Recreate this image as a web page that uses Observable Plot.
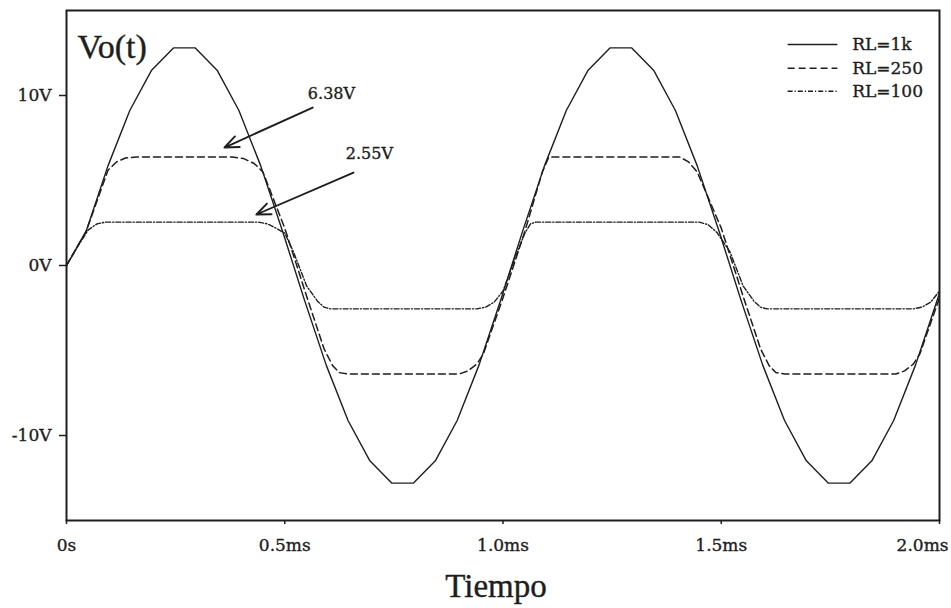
<!DOCTYPE html>
<html>
<head>
<meta charset="utf-8">
<script src="https://cdn.jsdelivr.net/npm/d3@7"></script>
<script src="https://cdn.jsdelivr.net/npm/@observablehq/plot@0.6"></script>
<style>
  html, body { margin: 0; padding: 0; background: #ffffff; }
  #chart svg { display: block; }
</style>
</head>
<body>
<div id="chart"></div>
<script>
// ---- data (time in ms, voltage in V) ----
const t1k = [0,0.045,0.095,0.145,0.195,0.245,0.295,0.345,0.395,0.445,0.495,0.545,0.595,0.645,0.695,0.745,0.795,0.845,0.895,0.945,0.995,1.045,1.095,1.145,1.195,1.245,1.295,1.345,1.395,1.445,1.495,1.545,1.595,1.645,1.695,1.745,1.795,1.845,1.895,1.945,1.995,2.0];
const v1k = [0,2.02,5.86,9.12,11.49,12.8,12.8,11.49,9.12,5.86,2.02,-2.02,-5.86,-9.12,-11.49,-12.8,-12.8,-11.49,-9.12,-5.86,-2.02,2.02,5.86,9.12,11.49,12.8,12.8,11.49,9.12,5.86,2.02,-2.02,-5.86,-9.12,-11.49,-12.8,-12.8,-11.49,-9.12,-5.86,-2.02,-1.62];

const t250 = [0,0.045,0.095,0.115,0.135,0.16,0.38,0.405,0.43,0.45,0.5,0.55,0.59,0.61,0.625,0.645,0.9,0.92,0.94,0.955,1.0,1.05,1.09,1.105,1.405,1.425,1.445,1.5,1.55,1.59,1.61,1.625,1.645,1.9,1.92,1.94,1.955,2.0];
const v250 = [0,2.0,5.6,6.1,6.32,6.38,6.38,6.3,6.0,5.5,2.2,-1.8,-4.9,-5.9,-6.3,-6.38,-6.38,-6.2,-5.8,-5.2,-1.9,2.0,5.5,6.38,6.38,6.1,5.5,2.2,-1.8,-4.9,-5.9,-6.3,-6.38,-6.38,-6.2,-5.8,-5.2,-1.9];

const t100 = [0,0.03,0.05,0.07,0.09,0.44,0.46,0.48,0.5,0.52,0.55,0.575,0.59,0.605,0.94,0.96,0.98,1.0,1.03,1.05,1.063,1.075,1.45,1.47,1.49,1.52,1.55,1.575,1.59,1.605,1.94,1.96,1.98,2.0];
const v100 = [0,1.3,2.1,2.45,2.55,2.55,2.45,2.2,1.9,0.8,-1.2,-2.1,-2.45,-2.55,-2.55,-2.45,-2.15,-1.5,0.6,1.9,2.45,2.55,2.55,2.4,1.95,0.8,-1.2,-2.1,-2.45,-2.55,-2.55,-2.45,-2.15,-1.5];

const seriesNames = ["RL=1k", "RL=250", "RL=100"];
const xTicks = [0, 0.5, 1.0, 1.5, 2.0];
const xTickLabels = ["0s", "0.5ms", "1.0ms", "1.5ms", "2.0ms"];
const yTicks = [-10, 0, 10];
const yTickLabels = ["-10V", "0V", "10V"];

// annotations: label, text position, arrow start/end (data units)
const notes = [
  {label: "6.38V", tx: 0.607, ty: 10.1, x1: 0.564, y1: 9.29, x2: 0.362, y2: 6.94},
  {label: "2.55V", tx: 0.694, ty: 6.56, x1: 0.6575, y1: 5.47, x2: 0.435, y2: 3.0}
];

// ---- build ----
const toRows = (ts, vs) => ts.map((t, i) => ({t, v: vs[i]}));
const rows1k = toRows(t1k, v1k);
const rows250 = toRows(t250, v250);
const rows100 = toRows(t100, v100);

const ink = "#1e1e1e";
const dashes = [null, "7,4", "5,2,1.2,2"];
const legendRows = seriesNames.map((name, i) => ({name, i, y: [13.0, 11.6, 10.25][i]}));
const heavy = {stroke: ink, strokeWidth: 0.35};

const marks = [
  Plot.frame({stroke: ink, strokeWidth: 2}),
  Plot.axisY(yTicks, {
    tickSize: 7, tickPadding: 8, label: null, stroke: ink, strokeWidth: 1.5,
    tickFormat: d => yTickLabels[yTicks.indexOf(d)],
    fontFamily: "DejaVu Serif", fontSize: 17, fill: ink
  }),
  Plot.axisX(xTicks, {
    tickSize: 4, label: null, stroke: ink, strokeWidth: 1.5, tickFormat: () => ""
  }),
  Plot.text(xTicks.slice(0, 4), {
    x: d => d, text: (d, i) => xTickLabels[i],
    frameAnchor: "bottom", lineAnchor: "top", dy: 18,
    fontFamily: "DejaVu Serif", fontSize: 17, fill: ink, ...heavy
  }),
  Plot.text(xTicks.slice(4), {
    x: d => d, text: d => xTickLabels[xTicks.indexOf(d)],
    frameAnchor: "bottom", lineAnchor: "top", dy: 18, dx: 9, textAnchor: "end",
    fontFamily: "DejaVu Serif", fontSize: 17, fill: ink, ...heavy
  }),
  Plot.line(rows1k, {x: "t", y: "v", stroke: ink, strokeWidth: 1.4}),
  Plot.line(rows250, {x: "t", y: "v", stroke: ink, strokeWidth: 1.5, strokeDasharray: dashes[1]}),
  Plot.line(rows100, {x: "t", y: "v", stroke: ink, strokeWidth: 1.4, strokeDasharray: dashes[2]}),
  Plot.arrow(notes, {
    x1: "x1", y1: "y1", x2: "x2", y2: "y2", bend: 0,
    headLength: 12, headAngle: 45, stroke: ink, strokeWidth: 1.9
  }),
  Plot.text(notes, {
    x: "tx", y: "ty", text: "label",
    fontFamily: "DejaVu Serif", fontSize: 16, fill: ink, ...heavy
  }),
  Plot.text(["Vo(t)"], {
    frameAnchor: "top-left", dx: 11, dy: 23, lineAnchor: "top", textAnchor: "start",
    fontFamily: "Liberation Serif", fontSize: 34, fill: ink, stroke: ink, strokeWidth: 0.4
  }),
  Plot.text(["Tiempo"], {
    frameAnchor: "bottom", dx: -7, dy: 66, lineAnchor: "middle",
    fontFamily: "Liberation Serif", fontSize: 33, fill: ink, stroke: ink, strokeWidth: 0.4
  })
];

legendRows.forEach((r, i) => {
  marks.push(Plot.link([r], {
    x1: () => 1.652, x2: () => 1.766, y1: "y", y2: "y",
    stroke: ink, strokeWidth: 1.4, strokeDasharray: dashes[i]
  }));
});
marks.push(Plot.text(legendRows, {
  x: () => 1.8, y: "y", text: "name", textAnchor: "start",
  fontFamily: "DejaVu Serif", fontSize: 17, fill: ink, ...heavy
}));

const chart = Plot.plot({
  width: 951,
  height: 608,
  marginLeft: 66,
  marginRight: 12,
  marginTop: 10,
  marginBottom: 88,
  x: {domain: [0, 2]},
  y: {domain: [-15, 15]},
  style: {background: "#ffffff", color: ink, fontFamily: "DejaVu Serif"},
  marks
});
// thicken y tick labels slightly to match the scanned look
d3.select(chart).selectAll("g[aria-label='y-axis tick label'] text")
  .attr("stroke", ink).attr("stroke-width", 0.35);
document.getElementById("chart").appendChild(chart);
</script>
</body>
</html>
